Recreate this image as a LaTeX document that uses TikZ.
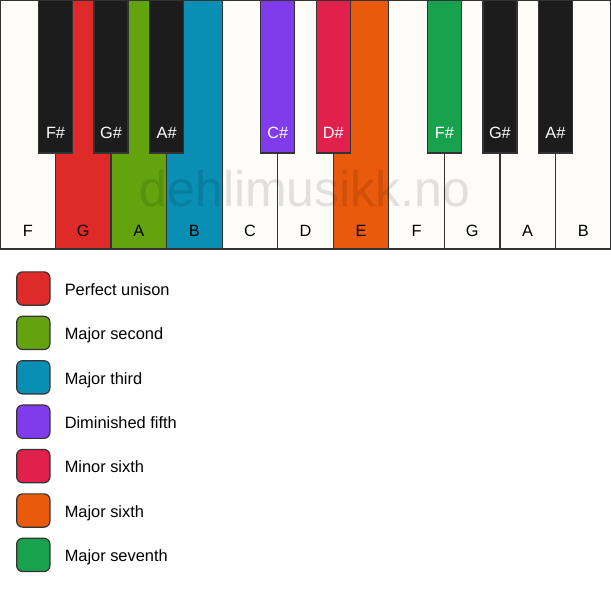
\documentclass[tikz,border=0pt]{standalone}
\usepackage{fontspec}
\setmainfont{Liberation Sans}
\usetikzlibrary{positioning}

\definecolor{keywhite}{HTML}{FDFCF9}
\definecolor{keyblack}{HTML}{1C1C1C}
\definecolor{keyedge}{HTML}{333333}
\definecolor{ivG}{HTML}{DE2A29}
\definecolor{ivA}{HTML}{63A30E}
\definecolor{ivB}{HTML}{098EB4}
\definecolor{ivCs}{HTML}{7F3BEC}
\definecolor{ivDs}{HTML}{E2204C}
\definecolor{ivE}{HTML}{EA5A0C}
\definecolor{ivFs}{HTML}{19A24E}

\begin{document}
\begin{tikzpicture}[x=1pt,y=-1pt,
  whitekey/.style={draw=keyedge, line width=1.2pt, minimum width=55.545pt, minimum height=249pt, inner sep=0pt},
  blackkey/.style={draw=keyedge, line width=1.2pt, minimum width=34pt, minimum height=153pt, inner sep=0pt},
  keylabel/.style={inner sep=0pt, font=\fontsize{16.3}{19}\selectfont},
  watermark/.style={inner sep=0pt, text=black, text opacity=0.11, font=\fontsize{50}{60}\selectfont},
  swatch/.style={draw=keyedge, line width=1.2pt, rounded corners=6pt, minimum size=33.3pt, inner sep=0pt},
  legendtext/.style={inner sep=0pt, font=\fontsize{16.4}{19}\selectfont}]
\useasboundingbox (0,0) rectangle (611,594);
\fill[white] (0,0) rectangle (611,594);
%white keys:
\foreach \n/\c [count=\i] in {F/keywhite,G/ivG,A/ivA,B/ivB,C/keywhite,D/keywhite,E/ivE,F/keywhite,G/keywhite,A/keywhite,B/keywhite}
{
  \node[whitekey, fill=\c] (w\i) at ({(\i-0.5)*55.545},124.5) {};
  \node[keylabel, anchor=base] (wl\i) at ([yshift=13pt]w\i.south) {\n};
}
%black keys:
\foreach \p/\n/\c in {1/F/keyblack,2/G/keyblack,3/A/keyblack,5/C/ivCs,6/D/ivDs,8/F/ivFs,9/G/keyblack,10/A/keyblack}
{
  \node[blackkey, fill=\c] (b\p) at ({\p*55.545},76.5) {};
  \node[keylabel, text=white, anchor=base] (bl\p) at ([yshift=14.7pt]b\p.south) {\n\#};
}
%watermark:
\node[watermark, anchor=base] (wm) at (305,206.7) {dehlimusikk.no};
%legend:
\foreach \c/\t [count=\i] in {ivG/Perfect unison,ivA/Major second,ivB/Major third,ivCs/Diminished fifth,ivDs/Minor sixth,ivE/Major sixth,ivFs/Major seventh}
{
  \node[swatch, fill=\c] (sw\i) at (33.3,{288.5+(\i-1)*44.4}) {};
  \node[legendtext, anchor=base west] (lt\i) at ([xshift=14pt,yshift=-6.8pt]sw\i.east) {\t};
}
\end{tikzpicture}
\end{document}
